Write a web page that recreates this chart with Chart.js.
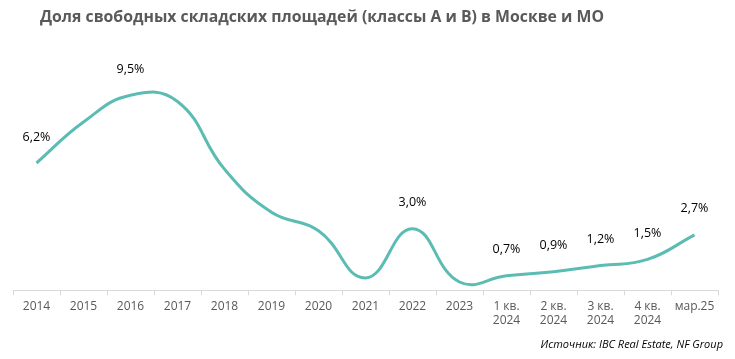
<!DOCTYPE html>
<html>
<head>
<meta charset="utf-8">
<script src="https://cdn.jsdelivr.net/npm/chart.js@4"></script>
<style>
  html, body { margin: 0; padding: 0; background: #fff; }
  #wrap { position: relative; width: 735px; height: 359px; }
</style>
</head>
<body>
<div id="wrap"><canvas id="chart"></canvas></div>
<script>
// categories and values
const categories = ['2014', '2015', '2016', '2017', '2018', '2019', '2020', '2021', '2022', '2023',
    ['1 кв.', '2024'], ['2 кв.', '2024'], ['3 кв.', '2024'], ['4 кв.', '2024'], 'мар.25'];
const vacancy = [6.2, 8.2, 9.5, 9.2, 5.9, 3.8, 2.9, 0.6, 3.0, 0.4, 0.7, 0.9, 1.2, 1.5, 2.7];
// only some points carry a label in the original
const labelled = [0, 2, 8, 10, 11, 12, 13, 14];

const titleText = 'Доля свободных складских площадей (классы А и В) в Москве и МО';
const sourceText = 'Источник: IBC Real Estate, NF Group';

const FONT = '"Open Sans", "Noto Sans", sans-serif';

const decorations = {
    id: 'decorations',
    afterDatasetsDraw(chart) {
        const ctx = chart.ctx;
        const meta = chart.getDatasetMeta(0);
        ctx.save();
        ctx.fillStyle = '#000';
        ctx.font = '12.5px ' + FONT;
        ctx.textAlign = 'center';
        ctx.textBaseline = 'middle';
        for (const i of labelled) {
            const pt = meta.data[i];
            const txt = vacancy[i].toFixed(1).replace('.', ',') + '%';
            ctx.fillText(txt, pt.x, pt.y - 26);
        }
        ctx.restore();
    },
    afterDraw(chart) {
        const ctx = chart.ctx;
        ctx.save();
        ctx.fillStyle = '#595959';
        ctx.font = 'bold 15.8px ' + FONT;
        ctx.textAlign = 'left';
        ctx.textBaseline = 'middle';
        ctx.fillText(titleText, 40, 17);

        ctx.fillStyle = '#000';
        ctx.font = 'italic 11px ' + FONT;
        ctx.textAlign = 'right';
        ctx.fillText(sourceText, 723, 345);
        ctx.restore();
    }
};

new Chart(document.getElementById('chart'), {
    type: 'line',
    data: {
        labels: categories,
        datasets: [{
            data: vacancy,
            borderColor: '#5bbcb3',
            borderWidth: 3,
            pointRadius: 0,
            pointHoverRadius: 0,
            tension: 0.45,
            fill: false
        }]
    },
    options: {
        responsive: true,
        maintainAspectRatio: false,
        animation: false,
        layout: {
            padding: { left: 13, right: 17, top: 44, bottom: 27 }
        },
        plugins: {
            legend: { display: false },
            tooltip: { enabled: false },
            title: { display: false }
        },
        scales: {
            x: {
                offset: true,
                grid: {
                    offset: true,
                    drawOnChartArea: false,
                    tickLength: 5,
                    color: '#d9d9d9'
                },
                border: { color: '#d9d9d9', width: 1 },
                ticks: {
                    color: '#595959',
                    font: { family: FONT, size: 12 },
                    padding: 4,
                    maxRotation: 0,
                    autoSkip: false
                }
            },
            y: {
                display: false,
                min: 0,
                max: 12
            }
        }
    },
    plugins: [decorations]
});
</script>
</body>
</html>
